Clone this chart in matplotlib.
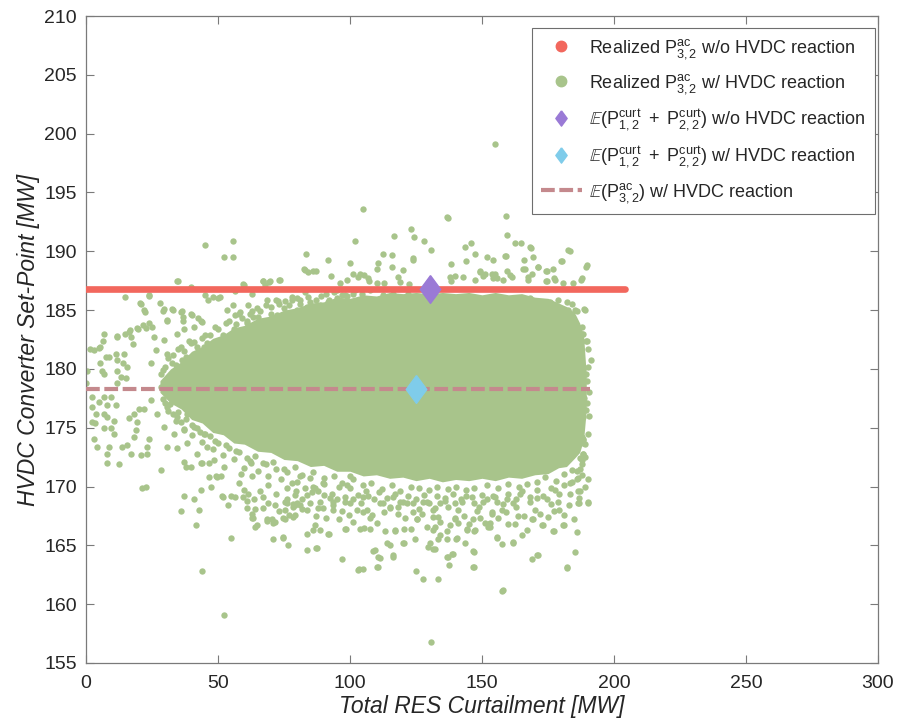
import matplotlib
matplotlib.use('Agg')
import matplotlib.pyplot as plt
from matplotlib.lines import Line2D
import numpy as np

plt.rcParams['font.family'] = ['Liberation Sans', 'DejaVu Sans']
plt.rcParams['mathtext.fontset'] = 'custom'
plt.rcParams['mathtext.rm'] = 'Liberation Sans'
plt.rcParams['mathtext.it'] = 'Liberation Sans:italic'
plt.rcParams['mathtext.bf'] = 'Liberation Sans:bold'
plt.rcParams['mathtext.fallback'] = 'stixsans'

# ---------------- data ----------------
x_ticks = [0, 50, 100, 150, 200, 250, 300]
y_ticks = [155, 160, 165, 170, 175, 180, 185, 190, 195, 200, 205, 210]

# realized set-point without HVDC reaction (constant)
red_x = [0, 204]
red_y = 186.8
# expected curtailment markers
purple_x, purple_y = 130.2, 186.8
cyan_x, cyan_y = 125.0, 178.3
# expected realized flow with HVDC reaction
dash_x = [0, 191]
dash_y = 178.3

# dense (solid-looking) core of the scatter cloud: upper / lower envelope
core_x = [28, 32, 36, 40, 44, 48, 52, 56, 60, 65, 70, 75, 80, 85, 90, 95, 100, 105, 110, 115,
          120, 125, 130, 135, 140, 145, 150, 155, 160, 165, 170, 175, 179, 182, 185, 187, 188.5, 189.5]
core_top = [179.0, 180.0, 180.6, 181.5, 181.9, 182.6, 182.9, 183.5, 183.7, 184.3, 184.5, 185.0, 185.2,
            185.6, 185.7, 186.1, 186.0, 186.3, 186.2, 186.5, 186.4, 186.5, 186.4, 186.5, 186.4, 186.5,
            186.3, 186.5, 186.3, 186.4, 186.1, 186.0, 185.6, 185.3, 184.8, 183.9, 182.8, 179.5]
core_bot = [178.0, 177.1, 176.6, 175.7, 175.4, 174.6, 174.4, 173.7, 173.6, 173.0, 172.9, 172.3, 172.2,
            171.7, 171.8, 171.3, 171.3, 170.9, 171.0, 170.7, 170.8, 170.5, 170.7, 170.4, 170.6, 170.5,
            170.7, 170.5, 170.8, 170.7, 171.0, 171.1, 171.6, 171.7, 172.4, 172.9, 174.0, 176.5]

green_left = [
    (45.1,190.5),(55.8,190.9),(52.4,189.5),(55.8,189.5),(34.6,187.5),(39.7,187.0),(14.7,186.1),(23.9,186.3),
    (28.0,185.6),(20.7,185.5),(22.1,185.0),(22.3,184.8),(29.5,185.1),(32.7,185.1),(30.8,184.2),(36.1,184.8),
    (36.9,184.4),(39.9,184.7),(11.9,182.8),(6.8,183.0),(16.3,183.1),(16.9,182.7),(17.9,182.1),(19.4,183.5),
    (22.6,183.5),(25.1,183.6),(23.9,183.9),(3.0,181.6),(4.9,181.8),(5.3,180.5),(7.5,181.0),(8.7,181.0),
    (11.2,181.3),(11.9,180.8),(14.4,181.3),(14.1,180.5),(15.4,180.2),(0.2,179.8),(0.0,178.8),(6.2,179.8),
    (6.8,179.6),(11.6,179.8),(13.1,179.3),(15.0,179.2),(11.9,178.8),(2.4,177.6),(4.9,177.2),(2.4,176.8),
    (6.8,177.6),(9.3,177.6),(11.2,176.9),(8.1,176.9),(3.7,176.2),(6.8,176.2),(8.1,175.9),(10.6,175.6),
    (2.4,175.5),(3.3,175.4),(6.8,175.0),(9.3,175.0),(10.6,174.5),(3.0,174.0),(4.3,173.4),(8.7,173.4),
    (8.1,172.8),(12.5,171.9),(13.8,173.4),(15.6,173.5),(16.9,172.8),(18.8,174.8),(18.2,174.2),(20.7,172.7),
    (23.2,172.8),(23.9,174.0),(23.2,173.4),(19.4,175.5),(16.3,175.8),(20.1,176.6),(22.0,176.6),(18.2,176.2),
    (8.1,172.0),(28.3,171.4),(21.3,169.85),(22.6,170.0),(37.1,169.2),(40.9,168.9),(42.8,168.0),(35.9,167.9),
    (43.7,169.7),(46.6,170.8),(49.1,170.9),(51.0,170.9),(51.6,169.2),(54.8,169.2),(53.8,168.4),(44.1,172.0),
    (46.6,172.0),(37.8,171.7),(37.1,172.1),(41.5,166.7),(43.8,162.8),(52.4,159.1),(54.8,165.6),(52.0,169.1),
    (56.5,169.1),(1.5,181.7),(5.3,181.9),(6.6,182.4),(11.6,182.7),(14.8,183.0),(16.7,183.3),(19.8,183.4),
    (21.7,183.7),(34.7,187.5),(39.7,186.9),(45.1,186.3),(46.3,185.9),(50.8,186.1),(55.8,185.4),(20.5,185.6),
    (23.9,186.2),(29.3,184.9),(30.6,184.1),(33.1,185.0),(36.2,184.9),(40.0,184.6),(42.5,184.3),(43.8,184.0),
    (36.9,184.1),(48.2,186.1),(50.1,186.0),(53.3,185.0),(56.4,184.6),(58.3,184.85),
    (25.8,182.7),(29.5,182.45),(26.4,181.6),(30.8,181.3),(34.6,183.0),(37.1,183.4),(40.9,183.6),(43.4,184.1),
    (35.9,181.9),(39.7,182.2),(32.7,180.5),(36.5,180.75),(40.9,181.0),(44.7,181.9),(24.5,180.5),(28.3,179.6),
    (32.1,179.05),(35.9,179.6),(39.7,179.9),(43.4,180.2),(28.3,178.5),(32.1,177.6),(37.1,177.35),(40.9,178.2),
    (44.7,178.5),(24.5,177.35),(27.0,176.2),(30.8,176.8),(34.6,175.9),(38.4,176.2),(42.2,176.8),(29.5,175.1),
    (33.3,174.5),(37.1,174.8),(40.9,175.1),(44.7,174.5),(30.8,173.4),(34.6,173.25),(38.4,173.7),(42.2,172.8),
    (45.9,173.4),(39.7,171.7),(43.4,172.0),(48.5,172.25),(49.7,170.8),(47.2,170.0),(52.3,171.7),(58.6,171.1),
    (62.4,172.0),(59.8,169.7),(63.6,168.9),(63.0,167.7),
]

green_top = [
    (104.8,193.6),(102.0,190.9),(83.3,189.8),(91.8,189.3),(100.0,189.0),(83.0,188.4),(87.1,188.3),(84.2,188.2),
    (92.7,187.9),(73.2,187.6),(66.9,187.5),(69.4,187.4),(96.2,187.3),(98.7,187.6),(101.3,188.1),(103.1,187.8),
    (105.3,188.0),(107.3,187.5),(110.1,188.5),(110.7,189.0),(112.4,189.8),(115.8,189.7),(115.8,188.7),(116.7,191.3),
    (123.0,191.9),(124.2,191.2),(128.0,190.9),(130.7,190.1),(123.7,189.3),(118.3,187.8),(112.9,187.3),(110.1,187.3),
    (122.5,187.2),(59.6,187.2),(103.8,188.1),(106.9,187.7),(120.2,188.4),(118.9,187.4),(124.0,189.4),(82.6,188.5),
    (86.1,188.3),(73.5,187.6),(69.7,187.5),(67.2,187.5),(67.8,187.1),(59.8,187.1),(62.8,186.4),(56.4,186.6),
    (61.5,185.4),(64.7,185.2),(68.4,185.9),(72.8,185.8),(75.4,185.8),(77.9,185.9),(81.1,185.9),
    (60.9,184.1),(63.4,184.4),(65.9,183.7),(68.4,184.1),(72.2,184.6),(74.7,184.1),(77.3,184.4),(79.8,185.0),
    (83.6,185.3),(86.1,184.85),(88.6,185.4),(91.8,185.7),(95.0,186.0),(98.1,186.3),(101.3,186.4),(104.4,186.4),
    (107.6,186.7),(108.8,185.85),(112.6,186.3),(116.4,186.4),(118.9,186.0),(122.1,186.4),
    (154.9,199.1),(137.2,192.8),(159.1,193.0),(159.6,191.4),(162.5,190.7),(164.7,190.7),(168.6,190.3),(143.6,190.4),
    (145.7,190.7),(147.3,189.8),(183.3,190.0),(189.4,188.7),(180.2,189.2),(177.0,188.5),(174.5,188.3),(171.1,188.7),
    (169.4,189.5),(165.9,189.3),(159.1,189.6),(154.3,189.3),(151.8,189.5),(138.1,188.9),(143.9,189.2),(142.9,187.8),
    (139.8,187.9),(138.1,187.5),(149.2,188.3),(151.1,188.1),(153.7,188.1),(159.3,188.3),(160.6,188.0),(155.6,187.7),
    (166.3,188.5),(167.5,187.8),(168.8,188.1),(174.5,187.5),(177.3,187.7),(180.6,187.3),(184.6,187.3),(187.4,187.6),
    (136.6,192.9),(168.2,190.4),(182.7,190.1),(158.7,189.6),(149.2,188.25),(154.9,188.1),(165.6,188.5),(171.3,188.7),
    (174.2,188.3),(179.8,189.2),(189.6,188.8),(137.9,187.8),(147.3,187.6),(150.5,187.9),(154.3,187.7),(158.1,187.6),
    (161.3,187.8),(167.5,187.6),(174.2,187.5),(177.7,187.6),(187.8,187.7),
    (137.2,185.85),(141.0,185.9),(144.2,185.55),(153.0,185.85),(159.8,185.85),(168.2,186.0),(172.0,185.55),
    (175.8,185.7),(178.9,185.85),(177.7,184.85),(179.5,184.6),(182.7,185.0),(185.2,185.0),(188.6,185.1),
    (182.3,185.7),(184.0,185.5),(186.1,184.9),(189.0,185.0),
]

green_bottom = [
    (63.1,167.3),(64.0,168.1),(64.0,166.6),(60.9,168.2),(62.8,167.3),(64.7,166.7),(59.6,169.1),(61.5,169.4),
    (67.2,169.1),(68.4,167.1),(71.6,167.0),(71.0,165.5),(74.7,165.6),(76.6,165.0),(75.4,168.0),(78.5,168.3),
    (76.0,168.6),(79.2,169.3),(81.7,168.9),(85.5,169.5),(86.7,169.9),(88.0,168.2),(89.9,168.2),(83.6,166.0),
    (86.1,166.3),(88.6,166.3),(91.8,166.0),(83.6,164.6),(87.1,164.8),(96.8,163.8),(98.1,166.4),(103.1,162.9),
    (105.0,163.0),(103.8,166.4),(107.6,166.4),(110.1,163.2),(108.8,164.5),(110.7,164.0),(111.4,163.9),(113.3,166.2),
    (117.0,166.2),(120.2,165.2),(113.9,165.2),(116.4,164.0),(124.6,165.5),(125.0,162.8),(127.8,162.1),(133.4,162.1),
    (130.6,156.8),(129.7,164.9),(132.2,164.7),(157.5,161.15),(137.6,163.3),(146.7,163.2),(136.6,164.0),(138.5,164.3),
    (146.7,164.5),(131.6,164.7),(133.4,165.5),(136.6,165.5),(143.6,165.2),(140.2,165.5),(136.6,166.2),(144.2,166.4),
    (147.1,166.2),(132.2,166.6),(134.1,165.9),(139.8,167.2),(141.0,166.9),(155.6,165.6),(157.4,165.1),(161.8,165.3),
    (165.0,165.9),(153.0,166.6),(152.8,166.8),(160.0,166.8),(162.5,166.8),(168.8,167.2),(172.6,166.7),(177.0,166.2),
    (180.8,166.7),(168.8,163.8),(170.9,164.2),(182.1,163.1),(185.2,164.4),(177.3,167.9),(190.3,168.6),(186.5,168.6),
    (163.7,167.5),(153.7,167.8),(157.5,168.0),(131.6,167.4),(133.4,167.4),(137.2,168.3),(139.8,168.6),(146.7,167.2),
    (148.0,167.9),(187.1,169.6),(186.8,169.0),(183.3,169.4),(185.9,170.6),(188.4,172.8),(187.8,171.9),(188.4,174.0),
    (98.5,166.4),(105.3,166.5),(120.5,166.4),(123.0,166.4),(125.2,167.2),(68.4,167.2),(70.3,167.2),(71.0,166.9),
    (75.4,167.2),(77.0,167.6),(79.2,167.6),(83.6,168.0),(93.7,168.0),(99.7,167.6),(102.5,168.0),(105.0,167.8),
    (108.2,167.6),(110.1,166.9),(78.5,168.5),(81.1,168.4),(71.6,168.4),(69.0,168.6),(88.6,168.7),(93.7,168.7),
    (100.0,168.6),(112.6,168.6),(115.2,168.2),(121.4,168.6),(124.0,167.8),(127.8,168.7),(131.6,168.0),
    (76.0,168.9),(79.2,168.4),(78.5,167.4),(74.7,167.3),(74.7,165.7),(86.7,166.7),(92.2,166.0),(87.4,164.8),
    (103.5,163.0),(110.5,163.2),(109.5,164.6),(116.4,164.2),(115.2,165.0),(117.0,166.3),(120.5,165.2),(130.3,165.2),
    (131.6,166.3),(132.2,168.15),(137.2,164.0),(139.1,164.3),(140.4,165.6),(144.2,166.3),(147.3,166.3),(147.0,164.4),
    (147.0,163.2),(152.4,166.6),(153.0,166.9),(155.8,165.7),(157.8,161.2),(161.9,165.2),(169.2,167.2),(171.3,164.2),
    (173.0,166.7),(177.3,166.2),(181.1,166.7),(182.1,163.2),(186.5,169.6),(186.9,168.6),(190.3,168.7),
    (75.4,168.7),(79.5,169.6),(79.8,168.6),(83.6,169.3),(86.1,170.0),(89.9,170.3),(92.4,169.0),(93.7,168.4),
    (98.1,168.7),(98.7,170.1),(101.3,168.9),(105.0,169.1),(106.3,168.0),(107.6,167.3),(111.4,168.6),(115.2,168.3),
    (116.4,169.1),(118.3,167.7),(120.2,168.7),(124.0,168.6),(125.3,167.2),(127.2,167.7),(129.0,168.7),(134.1,168.6),
    (139.8,167.3),(142.3,168.7),(146.1,169.1),(149.2,167.3),(150.5,168.7),(153.7,167.7),(155.6,168.7),(159.3,168.9),
    (161.9,168.6),(164.4,169.4),(168.2,168.7),(170.7,169.0),(174.5,168.9),(177.7,169.7),(178.9,168.7),(183.3,170.3),
    (186.5,170.7),(187.8,172.25),(188.4,173.95),
    (96,167.2),(101,167.0),(104,168.6),(107,169.2),(113,167.8),(118,168.3),(121,167.3),(126,168.1),(129,166.6),
    (134,167.0),(136,169.0),(138,166.7),(141,168.0),(143,167.5),(145,166.8),(149,168.3),(151,166.9),(154,169.2),
    (156,167.3),(159,167.8),(163,168.3),(166,167.5),(167,166.3),(170,168.0),(172,167.7),(175,167.4),(176,168.5),
    (179,168.0),(181,167.6),(183,168.4),(185,167.2),(186,166.1),(189,170.0),(187,171.5),(190,170.6),
    (58,170.3),(61,168.8),(63,170.9),(66,169.6),(67,168.2),(69,170.1),(72,169.4),(73,167.9),(76,169.9),
    (80,170.4),(82,168.1),(85,168.6),(87,167.5),(90,169.3),(91,167.3),(95,168.9),(97,167.9),(100,170.9),
]

green_rim = [
    (30,180.2),(33,181.2),(37,181.5),(41,182.3),(44,182.6),(47,182.9),(50,183.4),(53,183.9),(57,183.8),
    (59,184.3),(62,184.7),(66,184.9),(70,185.3),(73,185.5),(77,185.4),(80,186.0),(84,186.1),(87,185.9),
    (91,186.4),(94,186.5),(97,186.3),
    (29,179.9),(31,180.9),(34,180.3),(35,181.7),(38,181.0),(39,182.4),(42,181.9),(45,182.9),(46,182.2),
    (49,183.6),(52,182.9),(54,184.1),(56,183.4),(58,184.7),(61,183.9),(63,184.9),(65,184.4),(68,185.4),
    (70,184.7),(72,185.9),(75,185.2),(78,186.1),(81,185.5),(83,186.5),(85,185.7),(89,186.2),(92,185.9),
    (95,186.7),(99,186.2),(102,186.7),
    (30,177.1),(33,176.2),(36,175.5),(40,175.2),(43,174.6),(47,174.3),(50,173.7),(54,173.3),(57,173.0),
    (61,172.4),(64,172.6),(68,171.9),(71,172.1),(75,171.5),(79,171.7),(82,171.0),(86,171.2),(90,170.7),
    (94,170.9),(97,170.3),(101,170.6),(105,170.1),(108,170.3),(112,169.8),(116,170.1),(119,169.6),(123,170.0),
    (126,169.9),(130,169.7),(133,170.0),(137,169.8),(140,170.0),(144,169.7),(147,169.9),(152,170.1),(156,169.9),
    (160,170.2),(164,170.0),(167,170.2),(171,170.4),(174,170.8),(178,170.5),(181,171.1),(184,171.4),(187,172.4),
    (189,173.6),
    (29,177.4),(31,176.4),(32,177.0),(34,175.6),(35,176.3),(37,174.9),(38,175.7),(40,174.4),(42,175.0),
    (44,173.8),(45,174.5),(48,173.2),(49,173.9),(52,172.7),(53,173.5),(56,172.3),(58,172.9),(60,171.6),
    (62,172.2),(65,171.3),(67,172.0),(69,170.9),(72,171.5),(74,170.6),(76,171.2),(78,170.3),(81,170.9),
    (83,169.9),(85,170.7),(88,169.6),(90,170.2),(93,169.4),(96,170.0),(98,169.1),(100,169.9),(103,169.3),
    (106,169.6),(109,168.9),(111,169.5),(114,169.0),(117,169.4),(119,168.7),(122,169.2),(125,168.9),(128,169.3),
    (130,168.6),(133,169.2),(136,168.8),(139,169.4),(142,168.9),(144,169.2),(147,168.6),(150,169.3),(152,168.9),
    (155,169.1),(158,168.5),(160,169.4),(163,168.9),(165,169.6),(168,169.1),(171,169.7),(173,169.2),(176,169.9),
    (179,169.4),(181,170.1),(184,170.4),(186,171.3),(188,171.0),(189,172.5),(190,174.5),(190.5,176.0),
    (187.8,183.6),(188.4,183.0),(189.4,182.4),(190.3,181.7),(191.2,180.8),(190.3,180.2),(189.4,179.6),(188.4,179.0),
    (187.8,183.0),(189.9,182.4),(188.4,180.0),(189.9,179.0),(189.9,177.1),(188.4,175.9),(187.1,175.4),(187.8,174.2),
    (188.4,173.7),(188.1,172.8),(189.5,176.5),(190.5,178.0),(188.8,177.5),
]

labels = [
    r'Realized $\mathregular{P^{ac}_{3,2}}$ w/o HVDC reaction ',
    r'Realized $\mathregular{P^{ac}_{3,2}}$ w/ HVDC reaction ',
    r'$\mathbb{E}\mathregular{(P^{curt}_{1,2}\ +\ P^{curt}_{2,2})}$ w/o HVDC reaction ',
    r'$\mathbb{E}\mathregular{(P^{curt}_{1,2}\ +\ P^{curt}_{2,2})}$ w/ HVDC reaction ',
    r'$\mathbb{E}\mathregular{(P^{ac}_{3,2})}$ w/ HVDC reaction ',
]

# ---------------- styles ----------------
RED = '#F2675D'
GREEN = '#A8C48B'
PURPLE = '#9A7AD6'
CYAN = '#7FCCEA'
DASH = '#C4898D'
TXT = '#262626'
SPINE = '#7a7a7a'
DIAMOND = [(0, 1), (0.74, 0), (0, -1), (-0.74, 0), (0, 1)]

fig = plt.figure(figsize=(8.97, 7.28), dpi=100)
ax = fig.add_axes([0.0959, 0.0893, 0.8829, 0.8887])

ax.fill_between(core_x, core_bot, core_top, color=GREEN, lw=0, zorder=1)
for grp in (green_left, green_top, green_bottom, green_rim):
    arr = np.array(grp)
    ax.scatter(arr[:, 0], arr[:, 1], s=21, color=GREEN, linewidths=0, zorder=2)

ax.plot(dash_x, [dash_y, dash_y], color=DASH, lw=3, ls=(0, (3.3, 1.1)), zorder=3)
ax.plot(red_x, [red_y, red_y], color=RED, lw=4.8, solid_capstyle='round', zorder=3)
ax.plot([purple_x], [purple_y], marker=DIAMOND, ms=20, color=PURPLE, ls='none', zorder=4)
ax.plot([cyan_x], [cyan_y], marker=DIAMOND, ms=20, color=CYAN, ls='none', zorder=4)

ax.set_xlim(0, 300)
ax.set_ylim(155, 210)
ax.set_xticks(x_ticks)
ax.set_yticks(y_ticks)
ax.tick_params(direction='in', length=5.5, width=0.8, color=SPINE, top=True, right=True,
               labelsize=14, labelcolor=TXT)
ax.tick_params(axis='x', pad=9)
ax.tick_params(axis='y', pad=6.5)
for sp in ax.spines.values():
    sp.set_color(SPINE)
    sp.set_linewidth(0.9)

ax.set_xlabel('Total RES Curtailment [MW]', fontsize=16.5, style='italic', color=TXT, labelpad=2)
ax.set_ylabel('HVDC Converter Set-Point [MW]', fontsize=16.5, style='italic', color=TXT, labelpad=3)

handles = [
    Line2D([], [], marker='o', ms=7.5, color=RED, ls='none'),
    Line2D([], [], marker='o', ms=7.5, color=GREEN, ls='none'),
    Line2D([], [], marker=DIAMOND, ms=11, color=PURPLE, ls='none'),
    Line2D([], [], marker=DIAMOND, ms=11, color=CYAN, ls='none'),
    Line2D([], [], color=DASH, lw=3, ls=(0, (3.3, 1.1))),
]
leg = ax.legend(handles, labels, loc='upper right', bbox_to_anchor=(0.9755, 0.9615),
                bbox_transform=fig.transFigure, fontsize=13, frameon=True, fancybox=False,
                edgecolor='#6e6e6e', framealpha=1, borderpad=0.5, labelspacing=0.63,
                handlelength=2.3, handletextpad=0.35, borderaxespad=0)
leg.get_frame().set_linewidth(0.8)
for t in leg.get_texts():
    t.set_color(TXT)

fig.savefig('out.png', dpi=100)
